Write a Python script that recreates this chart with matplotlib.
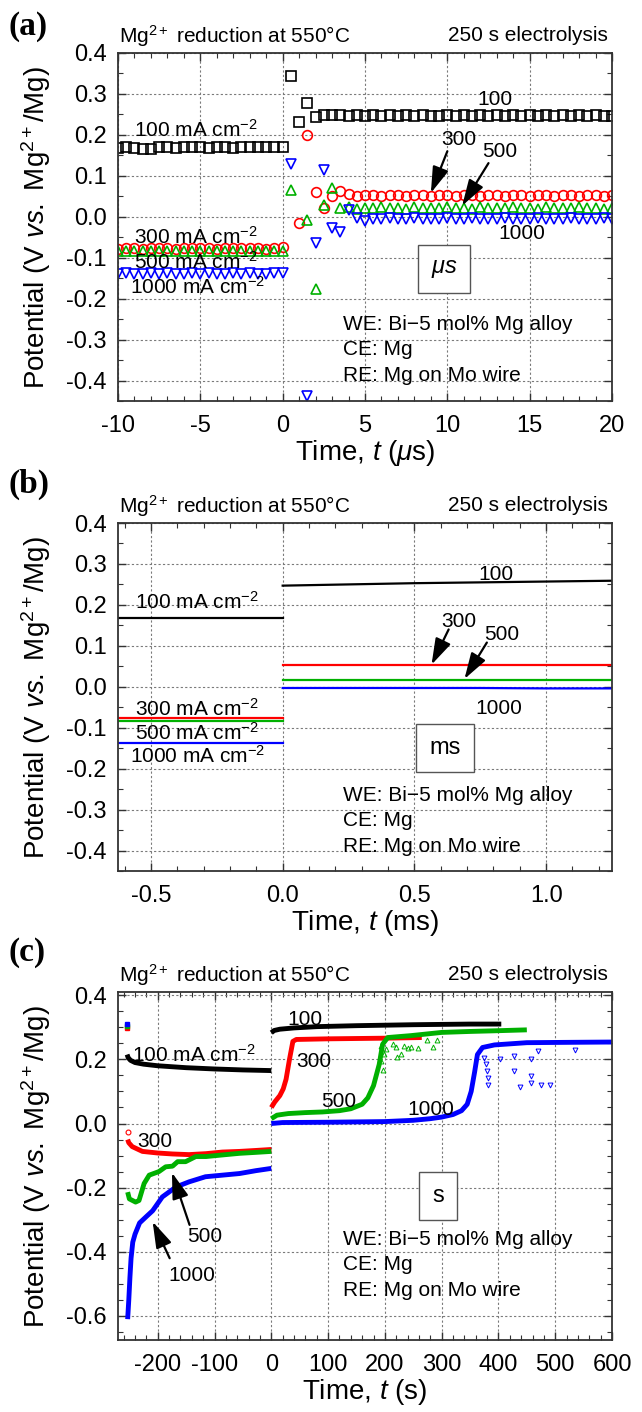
"""Mg2+ reduction chronopotentiometry, three time windows (us / ms / s)."""
import numpy as np
import matplotlib
matplotlib.use("Agg")
import matplotlib.pyplot as plt
from matplotlib.ticker import MultipleLocator, FuncFormatter

plt.rcParams["font.family"] = ["Liberation Sans", "DejaVu Sans"]
plt.rcParams["mathtext.fontset"] = "custom"
plt.rcParams["mathtext.rm"] = "Liberation Sans"
plt.rcParams["mathtext.it"] = "Liberation Sans:italic"
plt.rcParams["mathtext.bf"] = "Liberation Sans:bold"
plt.rcParams["axes.unicode_minus"] = False

BLACK, RED, GREEN, BLUE = "black", "#ff0000", "#00b000", "#0000ff"

# ── (a) microsecond window, one point every 0.5 us ───────────────────────────
t_a_pre = np.arange(-10, 0.01, 0.5)
t_a_post = np.arange(0.5, 20.01, 0.5)
nan = np.nan

a100_pre = [0.168, 0.170, 0.168, 0.166, 0.166, 0.170, 0.170, 0.169, 0.170, 0.170, 0.170,
            0.169, 0.170, 0.170, 0.169, 0.170, 0.170, 0.170, 0.170, 0.170, 0.171]
a300_pre = [-0.078, -0.077, -0.077, -0.078, -0.077, -0.076, -0.077, -0.078, -0.077, -0.077, -0.076,
            -0.077, -0.078, -0.077, -0.077, -0.077, -0.076, -0.077, -0.078, -0.077, -0.075]
a500_pre = [-0.083, -0.084, -0.083, -0.083, -0.084, -0.083, -0.083, -0.084, -0.083, -0.083, -0.084,
            -0.083, -0.083, -0.084, -0.083, -0.083, -0.084, -0.083, -0.083, -0.084, -0.083]
a1000_pre = [-0.139, -0.138, -0.139, -0.139, -0.138, -0.139, -0.138, -0.139, -0.139, -0.138, -0.139,
             -0.138, -0.139, -0.139, -0.138, -0.139, -0.138, -0.139, -0.139, -0.138, -0.138]

a100_post = [0.344, 0.232, 0.278, 0.244, 0.248, 0.248, 0.248, 0.247, 0.248, 0.246,
             0.248, 0.247, 0.248, 0.246, 0.248, 0.247, 0.248, 0.247, 0.246, 0.248,
             0.247, 0.248, 0.246, 0.248, 0.247, 0.248, 0.247, 0.248, 0.246, 0.248,
             0.247, 0.248, 0.247, 0.248, 0.246, 0.248, 0.247, 0.248, 0.247, 0.247]
a300_post = [nan, -0.015, 0.200, 0.061, 0.022, 0.050, 0.062, 0.056, 0.050, 0.053,
             0.052, 0.050, 0.053, 0.052, 0.051, 0.053, 0.052, 0.050, 0.053, 0.052,
             0.051, 0.053, 0.052, 0.050, 0.053, 0.052, 0.051, 0.054, 0.052, 0.051,
             0.053, 0.052, 0.050, 0.053, 0.052, 0.051, 0.053, 0.052, 0.051, 0.053]
a500_post = [0.065, nan, -0.008, -0.177, 0.029, 0.070, 0.022, 0.025, 0.020, 0.022,
             0.021, 0.023, 0.021, 0.022, 0.020, 0.023, 0.022, 0.021, 0.022, 0.023,
             0.021, 0.022, 0.020, 0.023, 0.022, 0.021, 0.022, 0.023, 0.021, 0.022,
             0.020, 0.023, 0.022, 0.021, 0.022, 0.023, 0.021, 0.022, 0.020, 0.022]
a1000_post = [0.130, nan, -0.437, -0.064, 0.115, -0.027, -0.036, 0.017, -0.003, -0.010,
              -0.005, -0.006, -0.004, -0.006, -0.005, -0.004, -0.006, -0.005, -0.006, -0.004,
              -0.005, -0.006, -0.004, -0.005, -0.006, -0.005, -0.004, -0.006, -0.005, -0.006,
              -0.004, -0.005, -0.006, -0.005, -0.004, -0.006, -0.005, -0.006, -0.004, -0.005]

# ── (b) millisecond window ───────────────────────────────────────────────────
t_b_pre = [-0.625, 0.0]
t_b_post = [0.0, 0.25, 0.5, 0.75, 1.0, 1.25]
b100_pre, b300_pre, b500_pre, b1000_pre = [0.169, 0.169], [-0.077, -0.077], [-0.083, -0.083], [-0.138, -0.138]
b100_post = [0.247, 0.250, 0.253, 0.255, 0.257, 0.259]
b300_post = [0.052, 0.052, 0.052, 0.052, 0.052, 0.052]
b500_post = [0.017, 0.017, 0.017, 0.017, 0.017, 0.017]
b1000_post = [-0.003, -0.003, -0.003, -0.003, -0.004, -0.004]

# ── (c) second window ────────────────────────────────────────────────────────
c100_pre_t = [-254, -252, -248, -240, -225, -200, -150, -100, -50, 0]
c100_pre_v = [0.215, 0.205, 0.197, 0.190, 0.185, 0.180, 0.174, 0.170, 0.167, 0.165]
c300_pre_t = [-253, -251, -245, -227, -200, -174, -145, -115, -86, -56, -27, 0]
c300_pre_v = [-0.050, -0.060, -0.072, -0.087, -0.092, -0.095, -0.097, -0.094, -0.089, -0.087, -0.084, -0.081]
c500_pre_t = [-253, -250, -239, -233, -224, -215, -198, -186, -174, -165, -151, -133, -115, -86, -56, -27, 0]
c500_pre_v = [-0.214, -0.235, -0.245, -0.240, -0.187, -0.161, -0.150, -0.135, -0.133, -0.119, -0.119,
              -0.103, -0.103, -0.098, -0.093, -0.090, -0.087]
c1000_pre_t = [-253, -251, -249, -247, -244, -240, -232, -220, -209, -192, -168, -145, -116, -86, -56, -27, 0]
c1000_pre_v = [-0.610, -0.550, -0.480, -0.420, -0.370, -0.345, -0.310, -0.290, -0.272, -0.229, -0.198,
               -0.182, -0.166, -0.161, -0.156, -0.147, -0.140]

c100_post_t = [0, 5, 15, 40, 80, 150, 250, 350, 405]
c100_post_v = [0.283, 0.290, 0.294, 0.298, 0.302, 0.305, 0.308, 0.310, 0.310]
c300_post_t = [0, 6, 15, 21, 26, 32, 38, 44, 100, 200, 265]
c300_post_v = [0.050, 0.067, 0.087, 0.108, 0.138, 0.200, 0.256, 0.262, 0.264, 0.266, 0.268]
c500_post_t = [0, 10, 30, 60, 90, 120, 140, 160, 170, 180, 190, 196, 205, 246, 300, 350, 393, 450]
c500_post_v = [0.015, 0.026, 0.031, 0.034, 0.036, 0.040, 0.046, 0.060, 0.080, 0.118, 0.184, 0.247,
               0.268, 0.274, 0.284, 0.287, 0.289, 0.292]
c1000_post_t = [0, 20, 100, 150, 200, 250, 280, 300, 320, 335, 345, 352, 358, 363, 372, 393, 450, 520, 600]
c1000_post_v = [0.000, 0.003, 0.004, 0.005, 0.006, 0.010, 0.015, 0.020, 0.028, 0.040, 0.060, 0.100,
                0.160, 0.215, 0.237, 0.245, 0.252, 0.253, 0.254]

# scattered single points
c500_scatter_t = [193, 194, 196, 198, 202, 214, 219, 222, 228, 234, 240, 246, 258, 275, 284, 292]
c500_scatter_v = [0.195, 0.242, 0.168, 0.216, 0.232, 0.247, 0.237, 0.208, 0.216, 0.242, 0.235, 0.237,
                  0.234, 0.260, 0.237, 0.260]
c1000_scatter_t = [375, 378, 380, 381, 381, 402, 428, 428, 438, 458, 458, 458, 470, 475, 491, 534]
c1000_scatter_v = [0.205, 0.184, 0.163, 0.142, 0.121, 0.200, 0.210, 0.163, 0.113, 0.200, 0.147, 0.126,
                   0.226, 0.121, 0.121, 0.228]
c_start_t = [-255, -255, -255]
c_start_v = [0.298, 0.305, 0.311]
c_start_col = [RED, GREEN, BLUE]

HEADER_L = r"Mg$^{2+}$ reduction at 550$\degree$C"
HEADER_R = "250 s electrolysis"
YLABEL = r"Potential (V $vs.$ Mg$^{2+}$/Mg)"
CELL = ["WE: Bi\u22125 mol% Mg alloy", "CE: Mg", "RE: Mg on Mo wire"]

W, H = 642, 1412
L, AW, AH = 118, 494, 348


def fmt(decimals):
    return FuncFormatter(lambda v, p: f"{round(v, 6) + 0.0:.{decimals}f}")


def make_axes(top_px):
    ax = fig.add_axes([L / W, 1 - (top_px + AH) / H, AW / W, AH / H])
    ax.tick_params(which="both", direction="in", top=True, right=True,
                   labelsize=17, color="#333333")
    ax.tick_params(which="major", length=6, width=1.0)
    ax.tick_params(which="minor", length=3.5, width=0.8)
    ax.tick_params(axis="x", pad=10)
    ax.tick_params(axis="y", pad=8)
    ax.grid(True, which="major", ls=(0, (2, 2)), color="#7a7a7a", lw=0.8)
    for s in ax.spines.values():
        s.set_linewidth(1.3)
        s.set_color("#333333")
    ax.text(0.002, 1.05, HEADER_L, transform=ax.transAxes, fontsize=15, ha="left", va="center")
    ax.text(0.992, 1.05, HEADER_R, transform=ax.transAxes, fontsize=15, ha="right", va="center")
    ax.set_axisbelow(True)
    return ax


def cell_text(ax, y0, dy=0.074):
    for i, s in enumerate(CELL):
        ax.text(0.455, y0 - i * dy, s, transform=ax.transAxes, fontsize=15, ha="left", va="center")


def unit_box(ax, x, y, s):
    ax.text(x, y, s, transform=ax.transAxes, fontsize=17, ha="center", va="center",
            bbox=dict(boxstyle="square,pad=0.55", fc="white", ec="#555555", lw=1.0))


def arrow(ax, tail, head):
    ax.annotate("", xy=head, xytext=tail,
                arrowprops=dict(arrowstyle="-|>,head_length=0.8,head_width=0.25",
                                color="black", lw=1.6, shrinkA=0, shrinkB=0,
                                mutation_scale=20))


fig = plt.figure(figsize=(W / 100, H / 100), dpi=100)

# ── panel (a) ────────────────────────────────────────────────────────────────
ax = make_axes(53)
mk = dict(ls="none", mfc="none", mew=1.2)
for pre, post, m, c, ms in [(a100_pre, a100_post, "s", BLACK, 6.5),
                            (a300_pre, a300_post, "o", RED, 7),
                            (a500_pre, a500_post, "^", GREEN, 7.5),
                            (a1000_pre, a1000_post, "v", BLUE, 7.5)]:
    ax.plot(t_a_pre, pre, marker=m, color=c, ms=ms, **mk)
    ax.plot(t_a_post, post, marker=m, color=c, ms=ms, **mk)
ax.set_xlim(-10, 20)
ax.set_ylim(-0.45, 0.4)
ax.xaxis.set_major_locator(MultipleLocator(5))
ax.xaxis.set_minor_locator(MultipleLocator(1))
ax.yaxis.set_major_locator(MultipleLocator(0.1))
ax.yaxis.set_minor_locator(MultipleLocator(0.05))
ax.xaxis.set_major_formatter(fmt(0))
ax.yaxis.set_major_formatter(fmt(1))
ax.set_xlabel(r"Time, $t$ ($\mu$s)", fontsize=20, labelpad=1)
ax.text(-9.0, 0.212, r"100 mA cm$^{-2}$", fontsize=15, va="center")
ax.text(-9.0, -0.050, r"300 mA cm$^{-2}$", fontsize=15, va="center")
ax.text(-9.0, -0.110, r"500 mA cm$^{-2}$", fontsize=15, va="center")
ax.text(-9.3, -0.170, r"1000 mA cm$^{-2}$", fontsize=15, va="center")
ax.text(12.9, 0.287, "100", fontsize=15, ha="center", va="center")
ax.text(10.7, 0.188, "300", fontsize=15, ha="center", va="center")
ax.text(13.2, 0.160, "500", fontsize=15, ha="center", va="center")
ax.text(14.5, -0.040, "1000", fontsize=15, ha="center", va="center")
arrow(ax, (10.0, 0.160), (9.0, 0.058))
arrow(ax, (12.5, 0.131), (10.9, 0.027))
unit_box(ax, 0.66, 0.379, r"$\mu s$")
cell_text(ax, 0.221)

# ── panel (b) ────────────────────────────────────────────────────────────────
ax = make_axes(523)
for pre, post, c in [(b100_pre, b100_post, BLACK), (b300_pre, b300_post, RED),
                     (b500_pre, b500_post, GREEN), (b1000_pre, b1000_post, BLUE)]:
    ax.plot(t_b_pre, pre, color=c, lw=1.6)
    ax.plot(t_b_post, post, color=c, lw=1.6)
ax.set_xlim(-0.625, 1.25)
ax.set_ylim(-0.45, 0.4)
ax.xaxis.set_major_locator(MultipleLocator(0.5))
ax.xaxis.set_minor_locator(MultipleLocator(0.1))
ax.yaxis.set_major_locator(MultipleLocator(0.1))
ax.yaxis.set_minor_locator(MultipleLocator(0.05))
ax.xaxis.set_major_formatter(fmt(1))
ax.yaxis.set_major_formatter(fmt(1))
ax.set_xlabel(r"Time, $t$ (ms)", fontsize=20, labelpad=1)
ax.text(-0.56, 0.207, r"100 mA cm$^{-2}$", fontsize=15, va="center")
ax.text(-0.56, -0.054, r"300 mA cm$^{-2}$", fontsize=15, va="center")
ax.text(-0.56, -0.113, r"500 mA cm$^{-2}$", fontsize=15, va="center")
ax.text(-0.58, -0.169, r"1000 mA cm$^{-2}$", fontsize=15, va="center")
ax.text(0.81, 0.275, "100", fontsize=15, ha="center", va="center")
ax.text(0.67, 0.160, "300", fontsize=15, ha="center", va="center")
ax.text(0.83, 0.128, "500", fontsize=15, ha="center", va="center")
ax.text(0.82, -0.053, "1000", fontsize=15, ha="center", va="center")
arrow(ax, (0.63, 0.140), (0.565, 0.054))
arrow(ax, (0.775, 0.108), (0.69, 0.019))
unit_box(ax, 0.662, 0.353, "ms")
cell_text(ax, 0.218)

# ── panel (c) ────────────────────────────────────────────────────────────────
ax = make_axes(992)
for (tp, vp, tq, vq, c) in [(c100_pre_t, c100_pre_v, c100_post_t, c100_post_v, BLACK),
                            (c300_pre_t, c300_pre_v, c300_post_t, c300_post_v, RED),
                            (c500_pre_t, c500_pre_v, c500_post_t, c500_post_v, GREEN),
                            (c1000_pre_t, c1000_pre_v, c1000_post_t, c1000_post_v, BLUE)]:
    ax.plot(tp, vp, color=c, lw=3.5, solid_capstyle="butt")
    ax.plot(tq, vq, color=c, lw=3.5, solid_capstyle="butt")
ax.plot(c500_scatter_t, c500_scatter_v, ls="none", marker="^", ms=3.5, mfc="none",
        mec=GREEN, mew=0.7)
ax.plot(c1000_scatter_t, c1000_scatter_v, ls="none", marker="v", ms=3.5, mfc="none",
        mec=BLUE, mew=0.7)
for t, v, c in zip(c_start_t, c_start_v, c_start_col):
    ax.plot(t, v, ls="none", marker="s", ms=3.5, color=c)
ax.plot(-252, -0.025, ls="none", marker="o", ms=3.5, mfc="none", mec=RED, mew=0.8)
ax.set_xlim(-270, 600)
ax.set_ylim(-0.675, 0.41)
ax.xaxis.set_major_locator(MultipleLocator(100))
ax.xaxis.set_minor_locator(MultipleLocator(20))
ax.yaxis.set_major_locator(MultipleLocator(0.2))
ax.yaxis.set_minor_locator(MultipleLocator(0.05))
ax.xaxis.set_major_formatter(fmt(0))
ax.yaxis.set_major_formatter(fmt(1))
ax.set_xlabel(r"Time, $t$ (s)", fontsize=20, labelpad=1)
ax.text(-245, 0.215, r"100 mA cm$^{-2}$", fontsize=15, va="center")
ax.text(60, 0.325, "100", fontsize=15, ha="center", va="center")
ax.text(75, 0.193, "300", fontsize=15, ha="center", va="center")
ax.text(118, 0.070, "500", fontsize=15, ha="center", va="center")
ax.text(281, 0.045, "1000", fontsize=15, ha="center", va="center")
ax.text(-205, -0.055, "300", fontsize=15, ha="center", va="center")
ax.text(-118, -0.353, "500", fontsize=15, ha="center", va="center")
ax.text(-140, -0.473, "1000", fontsize=15, ha="center", va="center")
arrow(ax, (-144, -0.316), (-175, -0.153))
arrow(ax, (-179, -0.420), (-209, -0.306))
unit_box(ax, 0.648, 0.414, "s")
cell_text(ax, 0.29)

# ── shared y labels and panel letters ────────────────────────────────────────
for top in (53, 523, 992):
    fig.text(36 / W, 1 - (top + AH / 2) / H, YLABEL, rotation=90, fontsize=20,
             ha="center", va="center")
for letter, yc in (("(a)", 27), ("(b)", 484), ("(c)", 953)):
    fig.text(8 / W, 1 - yc / H, letter, fontsize=24, fontweight="bold",
             family="Liberation Serif", ha="left", va="center")

fig.savefig("out.png", dpi=100)
